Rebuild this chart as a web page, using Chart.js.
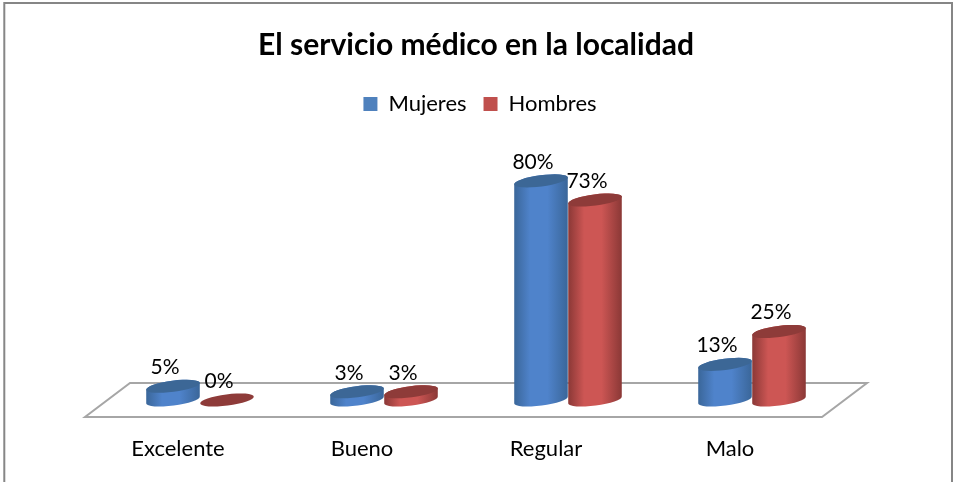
<!DOCTYPE html>
<html><head><meta charset="utf-8">
<script src="https://cdn.jsdelivr.net/npm/chart.js@4"></script>
<style>html,body{margin:0;padding:0;background:#fff}#w{position:absolute;left:0;top:0;width:953px;height:482px}</style>
</head><body><div id="w"><canvas id="c" width="953" height="482"></canvas></div>
<script>
const categories = ["Excelente", "Bueno", "Regular", "Malo"];
const mujeres = [5, 3, 80, 13];
const hombres = [0, 3, 73, 25];
const titleText = "El servicio médico en la localidad";
const seriesNames = ["Mujeres", "Hombres"];
const FONT = "Lato, Carlito, sans-serif";

const palettes = {
  "#4f81bd": {edge:"#3a6699", mid:"#4f83cb", top:"#3c6796"},
  "#c0504d": {edge:"#8a3836", mid:"#cd5654", top:"#8e3b39"}
};
const TILT = -0.13, RY = 5.6;

class CylinderBar extends Chart.BarElement {
  draw(ctx) {
    const {x, y, base, width} = this.getProps(["x","y","base","width"]);
    const p = palettes[this.options.backgroundColor] || palettes["#4f81bd"];
    const rx = width / 2;
    ctx.save();
    if (base - y > 0.5) {
      const g = ctx.createLinearGradient(x - rx, 0, x + rx, 0);
      g.addColorStop(0, p.edge); g.addColorStop(0.3, p.mid);
      g.addColorStop(0.62, p.mid); g.addColorStop(1, p.edge);
      ctx.fillStyle = g;
      ctx.beginPath();
      ctx.ellipse(x, base, rx, RY, TILT, 0, Math.PI);
      ctx.ellipse(x, y, rx, RY, TILT, Math.PI, 0);
      ctx.closePath();
      ctx.fill();
    }
    ctx.beginPath();
    ctx.ellipse(x, y, rx, RY, TILT, 0, Math.PI * 2);
    ctx.fillStyle = p.top;
    ctx.fill();
    ctx.restore();
  }
}
CylinderBar.id = "cylinderBar";
CylinderBar.defaults = Chart.BarElement.defaults;
// The second series sits in front of the first one, so it is painted after it.
class CylinderController extends Chart.BarController {
  draw() { if (this.index === 0) super.draw(); }
}
CylinderController.id = "cylinder";
CylinderController.defaults = Object.assign({}, Chart.BarController.defaults, {dataElementType: "cylinderBar"});
CylinderController.overrides = Chart.BarController.overrides;
Chart.register(CylinderBar, CylinderController);

const frame = {
  id: "frame",
  beforeDraw(chart) {
    const {ctx, chartArea: a} = chart;
    ctx.save();
    ctx.strokeStyle = "#868686"; ctx.lineWidth = 2;
    ctx.beginPath();
    ctx.moveTo(4.3, 482); ctx.lineTo(4.3, 3); ctx.lineTo(952, 3); ctx.lineTo(952, 482);
    ctx.stroke();
    ctx.strokeStyle = "#a6a6a6"; ctx.lineWidth = 2;
    ctx.beginPath();
    ctx.moveTo(a.left - 23, a.bottom + 17);
    ctx.lineTo(a.right - 22, a.bottom + 17);
    ctx.lineTo(a.right + 23, a.bottom - 17);
    ctx.lineTo(a.left + 22, a.bottom - 17);
    ctx.closePath();
    ctx.stroke();
    ctx.restore();
    chart.legend.left += 4; chart.legend.right += 4;
  },
  afterDraw(chart) { chart.legend.left -= 4; chart.legend.right -= 4; }
};
const valueLabels = {
  id: "valueLabels",
  afterDatasetsDraw(chart) {
    const {ctx} = chart;
    chart.getDatasetMeta(1).data.forEach(el => el.draw(ctx));
    ctx.save();
    ctx.font = "21px " + FONT;
    ctx.fillStyle = "#000";
    ctx.textAlign = "center";
    ctx.textBaseline = "middle";
    chart.data.datasets.forEach((ds, i) => {
      chart.getDatasetMeta(i).data.forEach((el, j) => {
        ctx.fillText(ds.data[j] + "%", el.x - 8, el.y - 19);
      });
    });
    ctx.restore();
  }
};

new Chart(document.getElementById("c"), {
  type: "cylinder",
  data: {
    labels: categories,
    datasets: [
      {label: seriesNames[0], data: mujeres, backgroundColor: "#4f81bd", clip: false},
      {label: seriesNames[1], data: hombres, backgroundColor: "#c0504d", clip: false}
    ]
  },
  options: {
    responsive: false, animation: false, events: [],
    layout: {padding: {left: 108, right: 109, top: 18, bottom: 0}},
    barPercentage: 1, categoryPercentage: 0.587,
    scales: {
      x: {grid: {display: false}, border: {display: false},
          afterFit(scale) { scale.height = 82; },
          ticks: {color: "#000", font: {family: FONT, size: 22}, padding: 28, labelOffset: -22, maxRotation: 0}},
      y: {display: false, min: 0, max: 100.4}
    },
    plugins: {
      tooltip: {enabled: false},
      title: {display: true, text: titleText, color: "#000",
              font: {family: FONT, size: 30, weight: "bold"}, padding: {top: 9, bottom: 13}},
      legend: {display: true, position: "top",
               labels: {color: "#000", font: {family: FONT, size: 22}, boxWidth: 14, boxHeight: 14, padding: 17}}
    }
  },
  plugins: [frame, valueLabels]
});
</script></body></html>
